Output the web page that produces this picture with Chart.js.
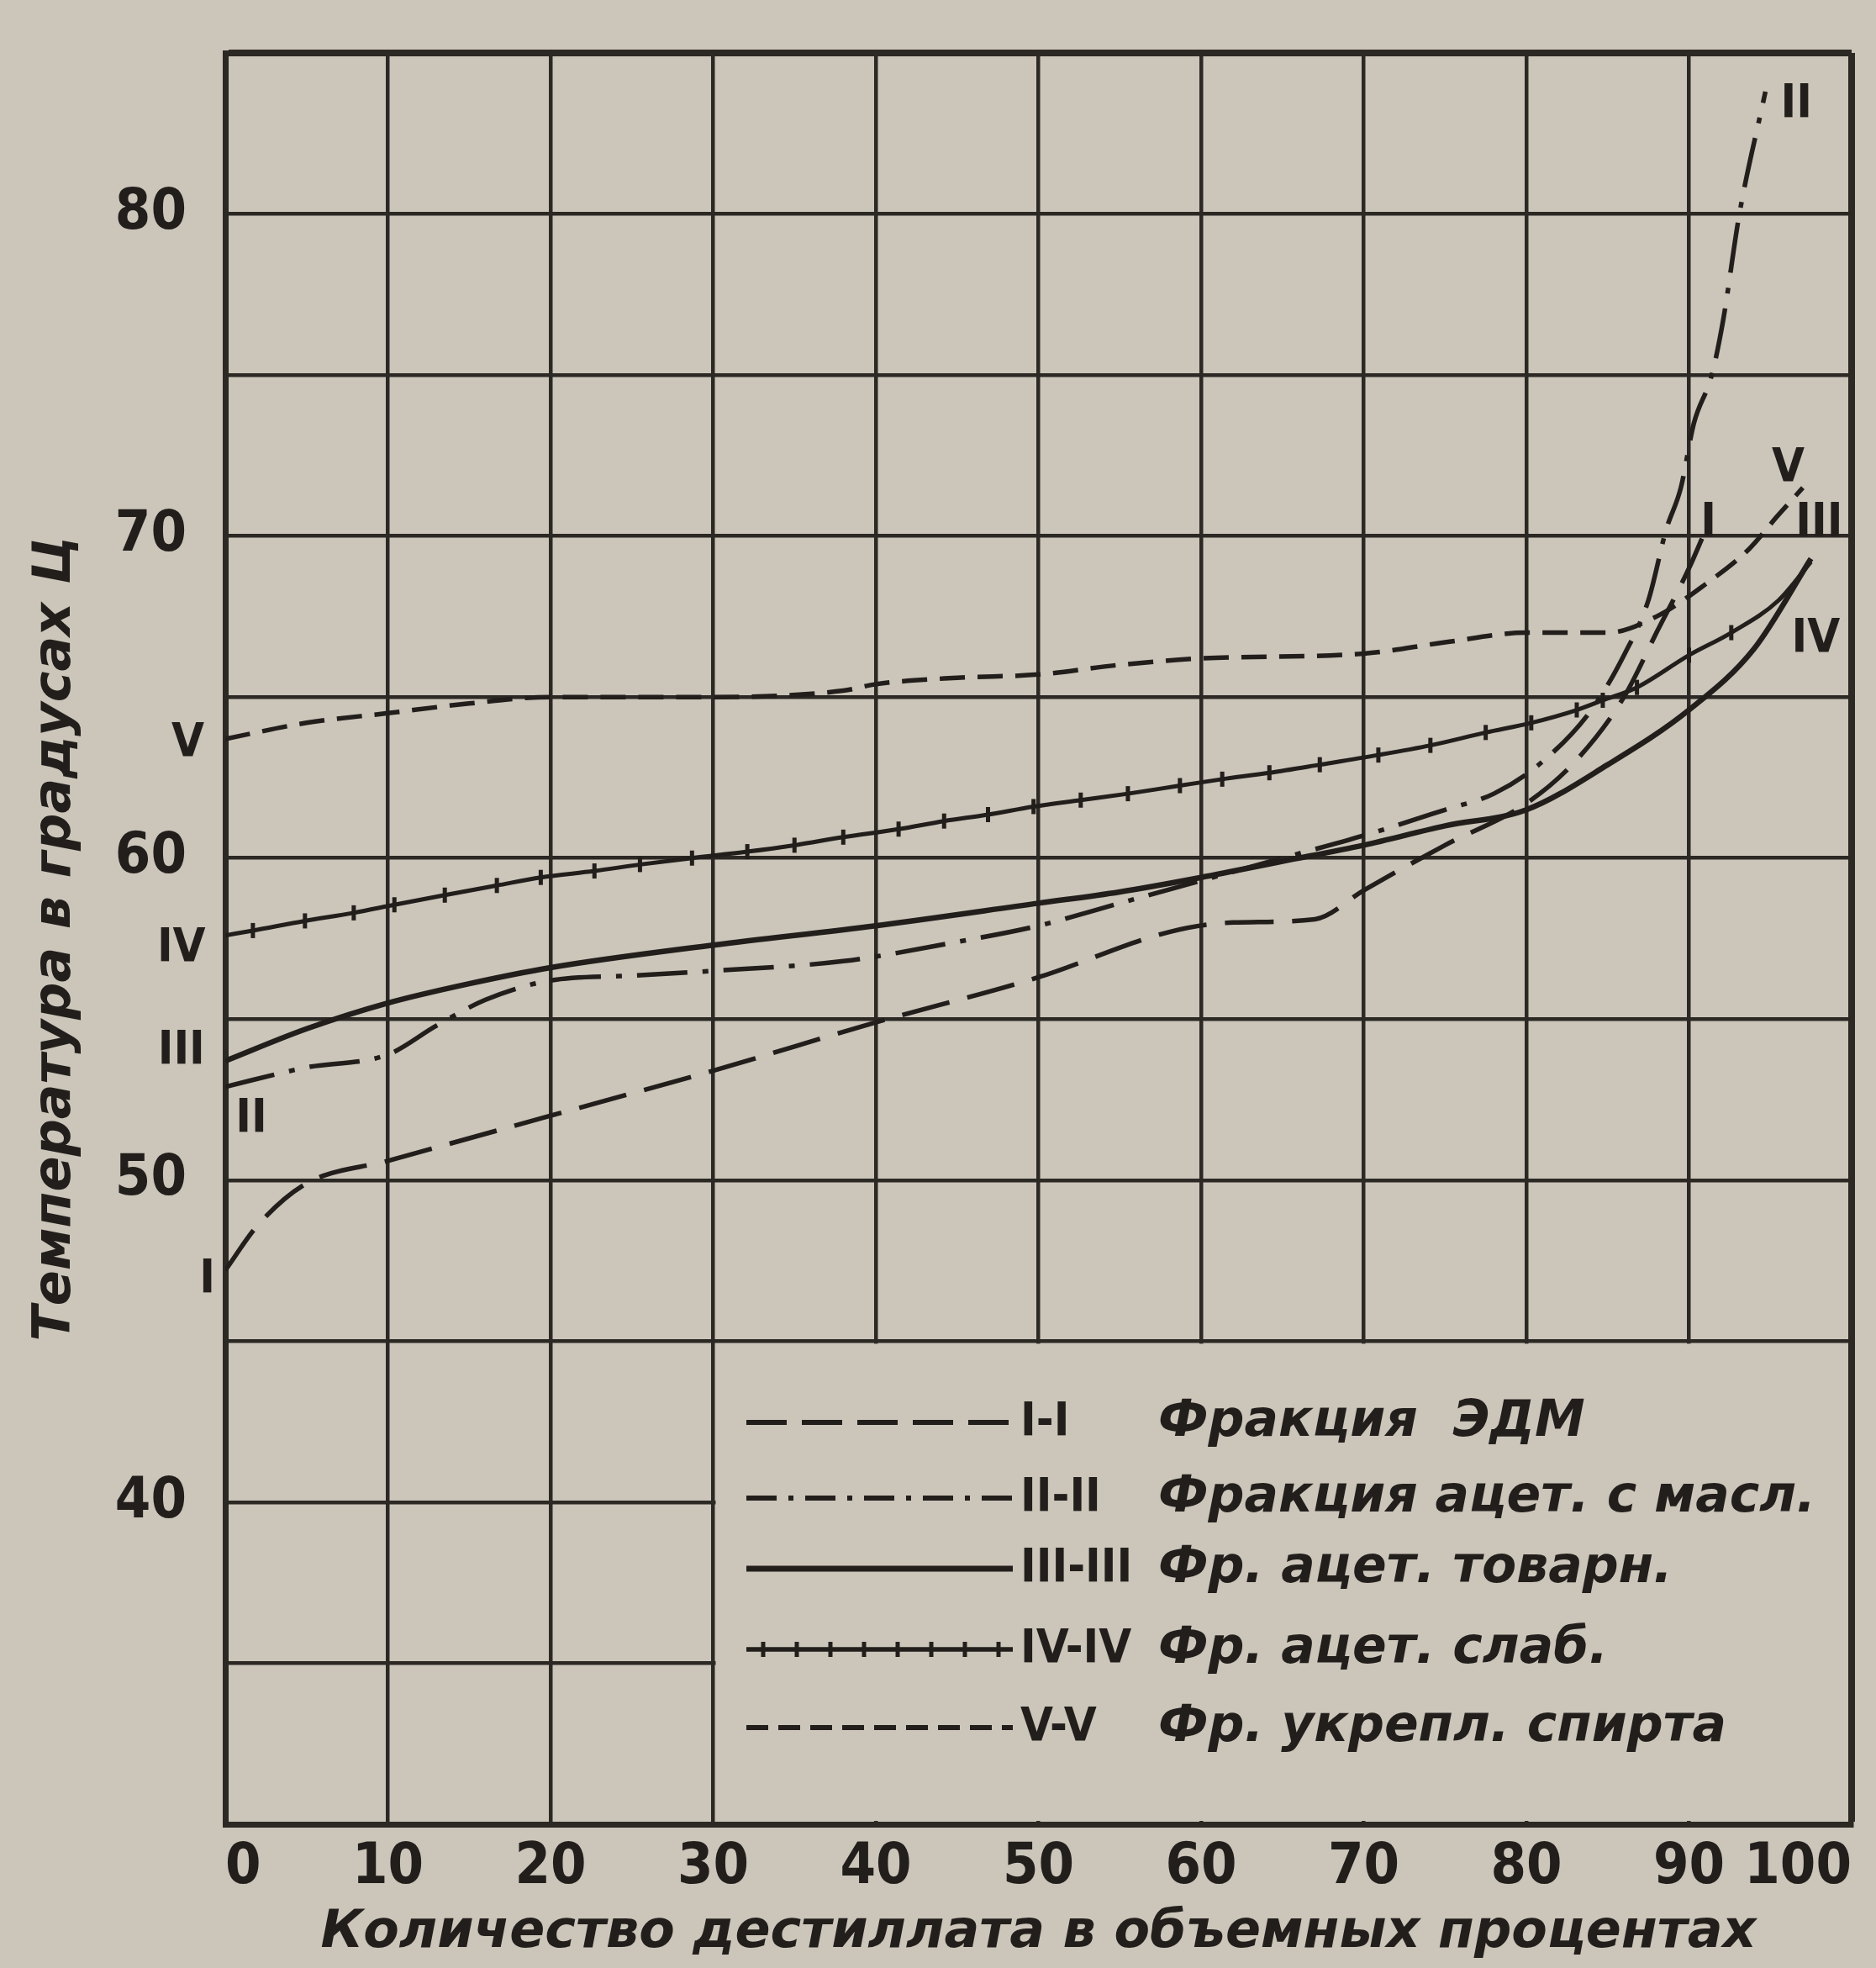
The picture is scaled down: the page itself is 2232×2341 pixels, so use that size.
<!DOCTYPE html>
<html><head><meta charset="utf-8">
<script src="https://cdn.jsdelivr.net/npm/chart.js@4.4.1/dist/chart.umd.min.js"></script>
<style>html,body{margin:0;padding:0;background:#cbc5ba;}canvas{display:block;}</style>
</head><body>
<canvas id="c" width="2232" height="2341"></canvas>
<script>
// ---------- data ----------
const xTickLabels = ['0','10','20','30','40','50','60','70','80','90','100'];
const yTickLabels = [40, 50, 60, 70, 80];

const xI = [0, 2, 5, 10, 20, 30, 40, 50, 58, 62, 67, 70, 75, 80, 83, 86, 88, 90, 91.2];
const yI = [47.2, 48.6, 49.9, 50.6, 52.0, 53.4, 54.9, 56.3, 57.7, 58.0, 58.1, 59.0, 60.4, 61.7, 63.0, 65.0, 67.0, 69.0, 70.4];

const xII = [0, 5, 10, 13, 16, 20, 25, 30, 38, 45, 50, 55, 60, 65, 70, 75, 78, 81, 84, 86, 87.5, 88.6, 89.5, 90.3, 91.4, 92.1, 93.1, 94.7];
const yII = [52.9, 53.5, 53.9, 54.8, 55.6, 56.2, 56.35, 56.5, 56.8, 57.4, 57.9, 58.6, 59.3, 60.0, 60.7, 61.5, 62.0, 63.0, 64.6, 66.3, 68.0, 70.2, 71.5, 73.5, 75.0, 76.7, 80.0, 83.8];

const xIII = [0, 5, 10, 15, 20, 30, 40, 50, 55, 60, 65, 70, 75, 80, 85, 90, 94, 97.5];
const yIII = [53.7, 54.7, 55.5, 56.1, 56.6, 57.3, 57.9, 58.6, 58.95, 59.4, 59.9, 60.4, 61.0, 61.5, 62.9, 64.6, 66.5, 69.3];

const xIV = [0, 1.7, 4.9, 7.9, 10.4, 13.5, 16.7, 19.4, 22.7, 25.5, 28.7, 32.1, 35.0, 38.0, 41.4, 44.2, 46.9, 49.7, 52.6, 55.5, 58.7, 61.3, 64.2, 67.3, 70.9, 74.1, 77.5, 80.3, 83.1, 84.7, 86.8, 90.0, 92.6, 95.5, 97.5];
const yIV = [57.6, 57.75, 58.05, 58.3, 58.55, 58.85, 59.15, 59.4, 59.6, 59.8, 60.0, 60.2, 60.4, 60.65, 60.9, 61.15, 61.35, 61.6, 61.8, 62.0, 62.25, 62.45, 62.65, 62.9, 63.2, 63.5, 63.9, 64.2, 64.6, 64.9, 65.3, 66.3, 67.0, 68.0, 69.2];

const xV = [0, 5, 10, 15, 20, 30, 38, 40, 45, 50, 55, 60, 70, 75, 80, 85, 88, 91, 93.7, 95.4, 97];
const yV = [63.7, 64.2, 64.5, 64.8, 65.0, 65.0, 65.2, 65.4, 65.6, 65.7, 66.0, 66.2, 66.35, 66.7, 67.0, 67.0, 67.5, 68.5, 69.6, 70.6, 71.5];

const seriesNames = ['Фракция  ЭДМ', 'Фракция ацет. с масл.', 'Фр. ацет. товарн.', 'Фр. ацет. слаб.', 'Фр. укрепл. спирта'];
const seriesTags = ['I-I', 'II-II', 'III-III', 'IV-IV', 'V-V'];
const xTitle = 'Количество дестиллата в объемных процентах';
const yTitle = 'Температура в градусах Ц';

// curve end labels (text, at data coords)
const curveTags = [
  ['V', -2.3, 63.55], ['IV', -2.7, 57.2], ['III', -2.7, 54.0], ['I', -1.1, 46.9], ['II', 1.6, 51.9],
  ['II', 96.6, 83.4], ['V', 96.1, 72.1], ['III', 98.0, 70.4], ['IV', 97.8, 66.8], ['I', 91.2, 70.4]
];

// ---------- style ----------
const PAPER = '#cbc5ba';
const INK = '#221e1b';
const GRID = '#2c2824';
const COND = '"DejaVu Sans Condensed", "DejaVu Sans", sans-serif';
const dashes = [[58, 22], [60, 18, 7, 18], [], [], [30, 15]];
const widths = [5.5, 5.5, 6.5, 5, 5.5];

const pts = (xs, ys) => xs.map((x, i) => ({x, y: ys[i]}));
const seriesData = [pts(xI, yI), pts(xII, yII), pts(xIII, yIII), pts(xIV, yIV), pts(xV, yV)];

const datasets = seriesData.map((d, i) => ({
  label: seriesNames[i],
  data: d,
  borderColor: INK,
  backgroundColor: INK,
  borderWidth: widths[i],
  borderDash: dashes[i],
  fill: false,
  cubicInterpolationMode: 'monotone',
  pointRadius: i === 3 ? xIV.map(x => x <= 93 && x > 0 ? 9 : 0) : 0,
  pointStyle: 'line',
  rotation: 90,
  pointBorderWidth: 5,
  pointBorderColor: INK
}));

const paperPlugin = {
  id: 'paper',
  beforeDraw(chart) {
    const {ctx, width, height} = chart;
    ctx.save(); ctx.fillStyle = PAPER; ctx.fillRect(0, 0, width, height); ctx.restore();
  },
  beforeDatasetsDraw(chart) {
    // legend panel: grid is not drawn inside it
    const {ctx, scales: {x, y}} = chart;
    const l = x.getPixelForValue(30) + 3, r = x.getPixelForValue(100) - 4;
    const t = y.getPixelForValue(45) + 3, b = y.getPixelForValue(30) - 4;
    ctx.save(); ctx.fillStyle = PAPER; ctx.fillRect(l, t, r - l, b - t); ctx.restore();
  }
};

const notePlugin = {
  id: 'notes',
  afterDraw(chart) {
    const {ctx, scales: {x, y}} = chart;
    ctx.save();
    ctx.fillStyle = INK;
    ctx.strokeStyle = INK;
    ctx.textAlign = 'center';
    ctx.textBaseline = 'middle';
    ctx.font = 'bold 56px ' + COND;
    curveTags.forEach(([t, vx, vy]) => ctx.fillText(t, x.getPixelForValue(vx), y.getPixelForValue(vy)));

    // legend
    const rows = [1692, 1782, 1866, 1962, 2055];
    const x0 = 888, x1 = 1205, tagX = 1214, textX = 1378;
    rows.forEach((ry, i) => {
      ctx.beginPath();
      ctx.lineWidth = widths[i] + 0.5;
      ctx.setLineDash(i === 0 ? [48, 18] : (i === 1 ? [36, 14, 6, 14] : (i === 4 ? [26, 12] : [])));
      ctx.moveTo(x0, ry); ctx.lineTo(x1, ry); ctx.stroke();
      ctx.setLineDash([]);
      if (i === 3) {
        ctx.lineWidth = 5;
        for (let px = x0 + 20; px < x1; px += 40) {
          ctx.beginPath(); ctx.moveTo(px, ry - 9); ctx.lineTo(px, ry + 9); ctx.stroke();
        }
      }
      ctx.textAlign = 'left';
      ctx.font = 'bold 56px ' + COND;
      ctx.fillText(seriesTags[i], tagX, ry);
      ctx.font = 'italic bold 60px "DejaVu Sans", sans-serif';
      ctx.fillText(seriesNames[i], textX, ry);
    });
    ctx.restore();
  }
};

new Chart(document.getElementById('c'), {
  type: 'line',
  data: {datasets},
  options: {
    responsive: false,
    animation: false,
    devicePixelRatio: 1,
    layout: {padding: {top: 63, right: 29, left: 0, bottom: 0}},
    plugins: {legend: {display: false}, tooltip: {enabled: false}},
    scales: {
      x: {
        type: 'linear', min: 0, max: 100,
        ticks: {
          stepSize: 10, padding: 12, color: INK, align: 'inner', maxRotation: 0, autoSkip: false,
          font: {family: COND, size: 68, weight: 'bold'},
          callback: (v, i) => xTickLabels[i]
        },
        grid: {color: GRID, lineWidth: c => (c.tick && c.tick.value === 100) ? 8 : 4.5, drawTicks: false},
        border: {color: GRID, width: 7},
        title: {display: true, text: xTitle, color: INK, padding: {top: 0, bottom: 4},
          font: {family: '"DejaVu Sans", sans-serif', size: 62, style: 'italic', weight: 'bold'}},
        afterFit(s) { s.height = 171; s.paddingLeft = 0; s.paddingRight = 0; }
      },
      y: {
        type: 'linear', min: 30, max: 85,
        ticks: {
          stepSize: 5, padding: 46, color: INK, autoSkip: false,
          font: {family: COND, size: 68, weight: 'bold'},
          callback: v => yTickLabels.includes(v) ? String(v) : ''
        },
        grid: {color: GRID, lineWidth: c => (c.tick && c.tick.value === 85) ? 8 : 4.5, drawTicks: false},
        border: {color: GRID, width: 7},
        title: {display: true, text: yTitle, color: INK, padding: {top: 30, bottom: 0},
          font: {family: '"DejaVu Sans", sans-serif', size: 62, style: 'italic', weight: 'bold'}},
        afterFit(s) { s.width = 268; s.paddingTop = 0; s.paddingBottom = 0; }
      }
    }
  },
  plugins: [paperPlugin, notePlugin]
});
</script>
</body></html>
